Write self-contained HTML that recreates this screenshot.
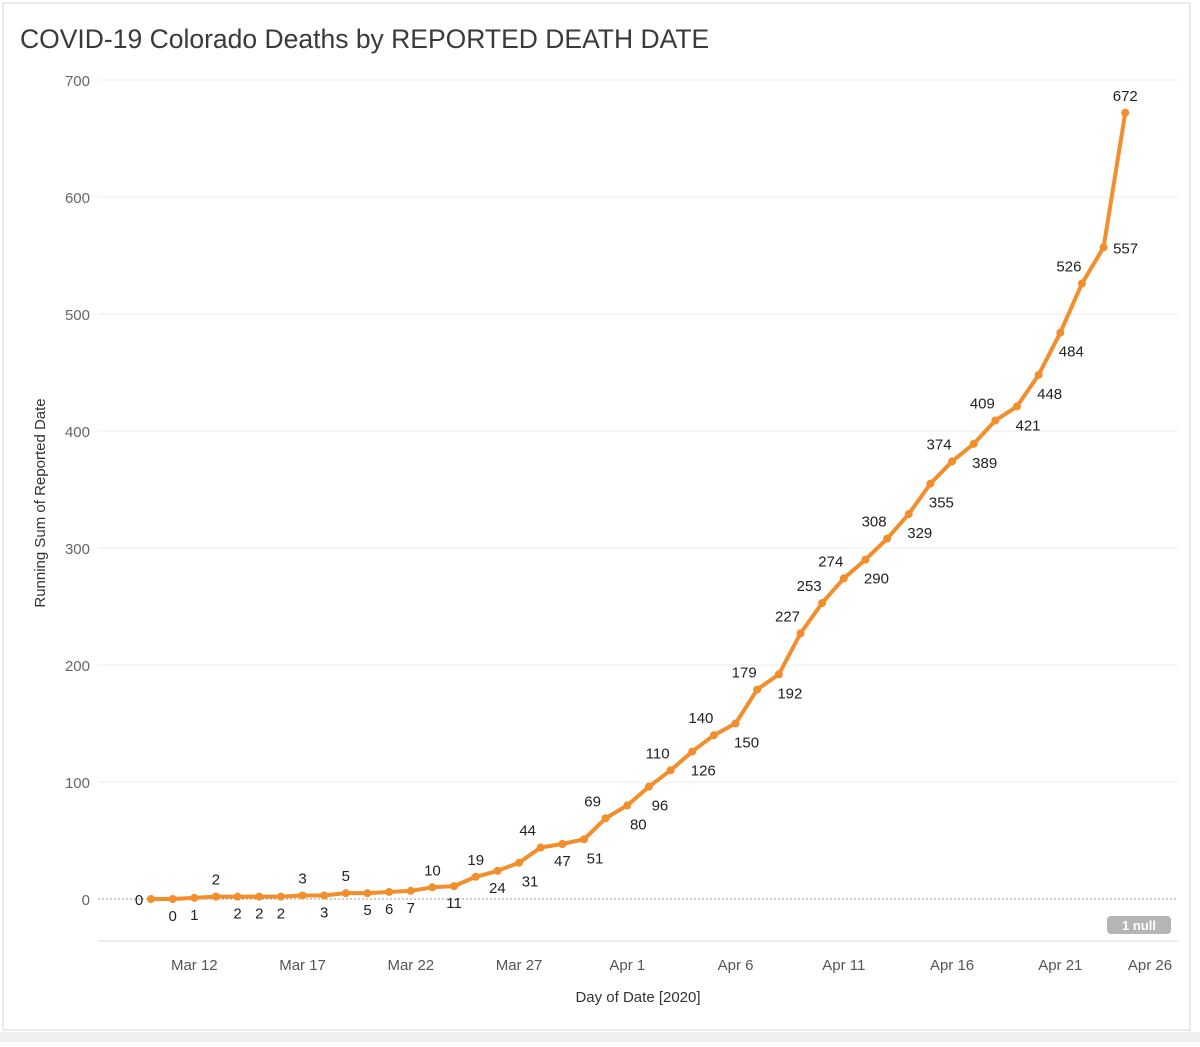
<!DOCTYPE html>
<html><head><meta charset="utf-8"><style>
body{margin:0;background:#fff;}
svg text{font-family:"Liberation Sans",sans-serif;}
</style></head><body>
<svg width="1200" height="1042" viewBox="0 0 1200 1042">
<rect x="3" y="3" width="1187" height="1027" fill="#fff" stroke="#d4d4d4"/>
<rect x="0" y="1032" width="1200" height="10" fill="#f0f0f0"/>
<text x="20" y="48" font-size="26.5" fill="#3a3a3a">COVID-19 Colorado Deaths by REPORTED DEATH DATE</text>
<g id="grid"></g>
<g id="axes"></g>
<text transform="translate(45,503) rotate(-90)" text-anchor="middle" font-size="15" fill="#333">Running Sum of Reported Date</text>
<text x="638" y="1002" text-anchor="middle" font-size="15" fill="#333">Day of Date [2020]</text>
<g><rect x="1107" y="916" width="64" height="18" rx="4" fill="#b5b5b5"/><text x="1139" y="930" text-anchor="middle" font-size="13" font-weight="bold" fill="#fff">1 null</text></g>
<g id="series"></g>
</svg>
<script>
const values=[0,0,1,2,2,2,2,3,3,5,5,6,7,10,11,19,24,31,44,47,51,69,80,96,110,126,140,150,179,192,227,253,274,290,308,329,355,374,389,409,421,448,484,526,557,672];
const labelPos=['l','b','b','a','b','b','b','a','b','a','b','b','b','a','b','a','b','br','al','b','br','al','br','br','al','br','al','br','al','br','al','al','al','br','al','br','br','al','br','al','br','br','br','al','r','a'];
const yTicks=[0,100,200,300,400,500,600,700];
const xTickLabels=['Mar 12','Mar 17','Mar 22','Mar 27','Apr 1','Apr 6','Apr 11','Apr 16','Apr 21','Apr 26'];
const xTickDays=[2,7,12,17,22,27,32,37,42,47];
const NS='http://www.w3.org/2000/svg';
const x=d=>151+d*21.65, y=v=>899-v*(819/700);
function el(t,a,p){const e=document.createElementNS(NS,t);for(const k in a)e.setAttribute(k,a[k]);p.appendChild(e);return e;}
const grid=document.getElementById('grid'),axes=document.getElementById('axes'),ser=document.getElementById('series');
yTicks.forEach(t=>{
 if(t>0){const g=el('line',{x1:98,x2:1178,y1:y(t),y2:y(t),stroke:'#ececec'},grid);
 
 }
 const l=el('text',{x:90,y:y(t)+6,'text-anchor':'end','font-size':15,fill:'#666'},axes);l.textContent=t;
 
 
});
const z=el('line',{x1:98,x2:1178,y1:y(0),y2:y(0),stroke:'#999','stroke-dasharray':'2,2'},grid);


const ax=el('line',{x1:98,x2:1178,y1:941,y2:941,stroke:'#ddd'},axes);


xTickLabels.forEach((s,i)=>{let xx=x(xTickDays[i]);if(xx>1150)xx=1150;
 const t=el('text',{x:xx,y:970,'text-anchor':'middle','font-size':15,fill:'#555'},axes);t.textContent=s;
 
 });
const line=el('polyline',{points:values.map((v,i)=>x(i)+','+y(v)).join(' '),fill:'none',stroke:'#f28e2b','stroke-width':4,'stroke-linejoin':'round'},ser);


values.forEach((v,i)=>{
 const c=el('circle',{cx:x(i),cy:y(v),r:4,fill:'#f28e2b'},ser);
 
 
 const p=labelPos[i];let dx=0,dy=0;
 if(p==='a'){dy=-12}else if(p==='b'){dy=22}else if(p==='br'){dx=11;dy=24}else if(p==='al'){dx=-13;dy=-12}else if(p==='l'){dx=-12;dy=6}else if(p==='r'){dx=22;dy=6}
 const t=el('text',{x:x(i)+dx,y:y(v)+dy,'text-anchor':'middle','font-size':15,fill:'#222'},ser);t.textContent=v;
 
 
});
</script>
</body></html>
